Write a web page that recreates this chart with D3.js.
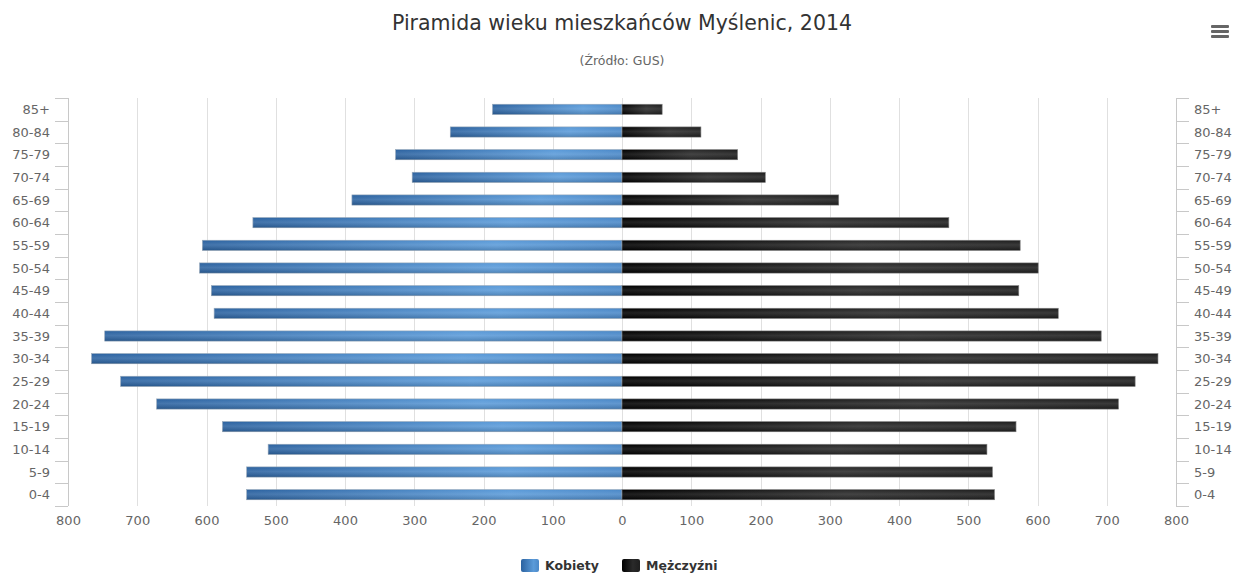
<!DOCTYPE html>
<html>
<head>
<meta charset="utf-8">
<script src="https://cdnjs.cloudflare.com/ajax/libs/d3/7.8.5/d3.min.js"></script>
<style>
  body { margin: 0; background: #fff; }
  svg { display: block; font-family: "DejaVu Sans", Verdana, sans-serif; }
</style>
</head>
<body>
<svg id="chart" width="1251" height="575"></svg>
<script>
// age groups, top to bottom
const ageGroups = ["85+", "80-84", "75-79", "70-74", "65-69", "60-64", "55-59", "50-54", "45-49",
                   "40-44", "35-39", "30-34", "25-29", "20-24", "15-19", "10-14", "5-9", "0-4"];
const kobiety   = [187, 248, 327, 303, 390, 533, 606, 610, 593, 589, 747, 766, 724, 672, 577, 511, 542, 542];
const mezczyzni = [58, 114, 167, 207, 313, 472, 575, 601, 573, 630, 692, 774, 741, 717, 569, 527, 535, 538];
const xTicks = [-800, -700, -600, -500, -400, -300, -200, -100, 0, 100, 200, 300, 400, 500, 600, 700, 800];
const seriesNames = ["Kobiety", "Mężczyźni"];

const width = 1251, height = 575;
const margin = {top: 98, right: 75, bottom: 69, left: 68};
const svg = d3.select("#chart");

const x = d3.scaleLinear()
    .domain([-800, 800])
    .range([margin.left, width - margin.right]);
const y = d3.scaleBand()
    .domain(ageGroups)
    .range([margin.top, height - margin.bottom])
    .paddingInner(0.55)
    .paddingOuter(0.275);

// gradients
const defs = svg.append("defs");
const gBlue = defs.append("linearGradient").attr("id", "gBlue")
    .attr("x1", 0).attr("x2", 1).attr("y1", 0).attr("y2", 0);
gBlue.append("stop").attr("offset", "0%").attr("stop-color", "#2b62a0");
gBlue.append("stop").attr("offset", "70%").attr("stop-color", "#5b9bd9");
gBlue.append("stop").attr("offset", "100%").attr("stop-color", "#4a88c8");
const gBlack = defs.append("linearGradient").attr("id", "gBlack")
    .attr("x1", 0).attr("x2", 1).attr("y1", 0).attr("y2", 0);
gBlack.append("stop").attr("offset", "0%").attr("stop-color", "#000");
gBlack.append("stop").attr("offset", "60%").attr("stop-color", "#2a2a2a");
gBlack.append("stop").attr("offset", "100%").attr("stop-color", "#1e1e1e");
const gShine = defs.append("linearGradient").attr("id", "gShine")
    .attr("x1", 0).attr("x2", 0).attr("y1", 0).attr("y2", 1);
gShine.append("stop").attr("offset", "0%").attr("stop-color", "#fff").attr("stop-opacity", 0.0);
gShine.append("stop").attr("offset", "45%").attr("stop-color", "#fff").attr("stop-opacity", 0.12);
gShine.append("stop").attr("offset", "100%").attr("stop-color", "#000").attr("stop-opacity", 0.15);

// title
svg.append("text")
    .attr("x", 622).attr("y", 30)
    .attr("text-anchor", "middle")
    .attr("font-size", 20.5).attr("fill", "#333")
    .text("Piramida wieku mieszkańców Myślenic, 2014");
svg.append("text")
    .attr("x", 622).attr("y", 65)
    .attr("text-anchor", "middle")
    .attr("font-size", 12.5).attr("fill", "#666")
    .text("(Źródło: GUS)");

// menu icon
const menu = svg.append("g").attr("transform", "translate(1211,25)");
[0, 5, 10].forEach(d => {
    menu.append("rect").attr("x", 0).attr("y", d).attr("width", 18).attr("height", 3)
        .attr("rx", 1).attr("fill", "#666");
});

// vertical grid
svg.append("g")
    .selectAll("line")
    .data(xTicks)
    .join("line")
    .attr("x1", d => Math.round(x(d)) + 0.5).attr("x2", d => Math.round(x(d)) + 0.5)
    .attr("y1", margin.top).attr("y2", height - margin.bottom)
    .attr("stroke", "#e0e0e0").attr("stroke-width", 1);

// bottom axis
const xAxis = svg.append("g")
    .attr("transform", `translate(0,${height - margin.bottom})`)
    .call(d3.axisBottom(x).tickValues(xTicks).tickSize(0).tickPadding(10)
        .tickFormat(d => Math.abs(d)));
xAxis.select(".domain").remove();
xAxis.selectAll("text").attr("font-size", 13).attr("fill", "#666")
    .attr("font-family", "DejaVu Sans, sans-serif");

// category axes (left and right)
const ticksAt = ageGroups.map(a => y(a) - y.step() * y.paddingInner() / 2).concat([height - margin.bottom]);
function catAxis(xPos, dir) {
    const g = svg.append("g");
    g.append("line")
        .attr("x1", xPos + 0.5).attr("x2", xPos + 0.5)
        .attr("y1", margin.top).attr("y2", height - margin.bottom)
        .attr("stroke", "#c8c8c8");
    g.selectAll("line.tick")
        .data(ticksAt)
        .join("line")
        .attr("class", "tick")
        .attr("x1", xPos).attr("x2", xPos + dir * 13)
        .attr("y1", d => Math.round(d) + 0.5).attr("y2", d => Math.round(d) + 0.5)
        .attr("stroke", "#c8c8c8");
    g.selectAll("text")
        .data(ageGroups)
        .join("text")
        .attr("x", xPos + dir * 18)
        .attr("y", d => y(d) + y.bandwidth() / 2)
        .attr("dy", "0.35em")
        .attr("text-anchor", dir < 0 ? "end" : "start")
        .attr("font-size", 13).attr("fill", "#666")
        .text(d => d);
}
catAxis(Math.round(x(-800)), -1);
catAxis(Math.round(x(800)), 1);

// bars
const bars = svg.append("g");
bars.selectAll("rect.k")
    .data(ageGroups)
    .join("rect")
    .attr("class", "k")
    .attr("x", (d, i) => x(-kobiety[i]))
    .attr("y", d => y(d))
    .attr("width", (d, i) => x(0) - x(-kobiety[i]))
    .attr("height", y.bandwidth())
    .attr("fill", "url(#gBlue)")
    .attr("stroke", "#9ab") .attr("stroke-width", 0.6);
bars.selectAll("rect.m")
    .data(ageGroups)
    .join("rect")
    .attr("class", "m")
    .attr("x", x(0))
    .attr("y", d => y(d))
    .attr("width", (d, i) => x(mezczyzni[i]) - x(0))
    .attr("height", y.bandwidth())
    .attr("fill", "url(#gBlack)")
    .attr("stroke", "#888").attr("stroke-width", 0.6);
// subtle shine overlay
bars.selectAll("rect.s")
    .data(ageGroups.flatMap((a, i) => [[a, -kobiety[i]], [a, mezczyzni[i]]]))
    .join("rect")
    .attr("class", "s")
    .attr("x", d => Math.min(x(0), x(d[1])))
    .attr("y", d => y(d[0]))
    .attr("width", d => Math.abs(x(d[1]) - x(0)))
    .attr("height", y.bandwidth())
    .attr("fill", "url(#gShine)");

// legend
const legend = svg.append("g").attr("transform", "translate(0,566)");
const legendX = [521, 622];
seriesNames.forEach((name, i) => {
    legend.append("rect")
        .attr("x", legendX[i]).attr("y", -7)
        .attr("width", 18).attr("height", 13).attr("rx", 2)
        .attr("fill", i === 0 ? "url(#gBlue)" : "url(#gBlack)");
    legend.append("text")
        .attr("x", legendX[i] + 24).attr("y", 0)
        .attr("dy", "0.35em")
        .attr("font-size", 12.5).attr("font-weight", "bold").attr("fill", "#333")
        .text(name);
});
</script>
</body>
</html>
